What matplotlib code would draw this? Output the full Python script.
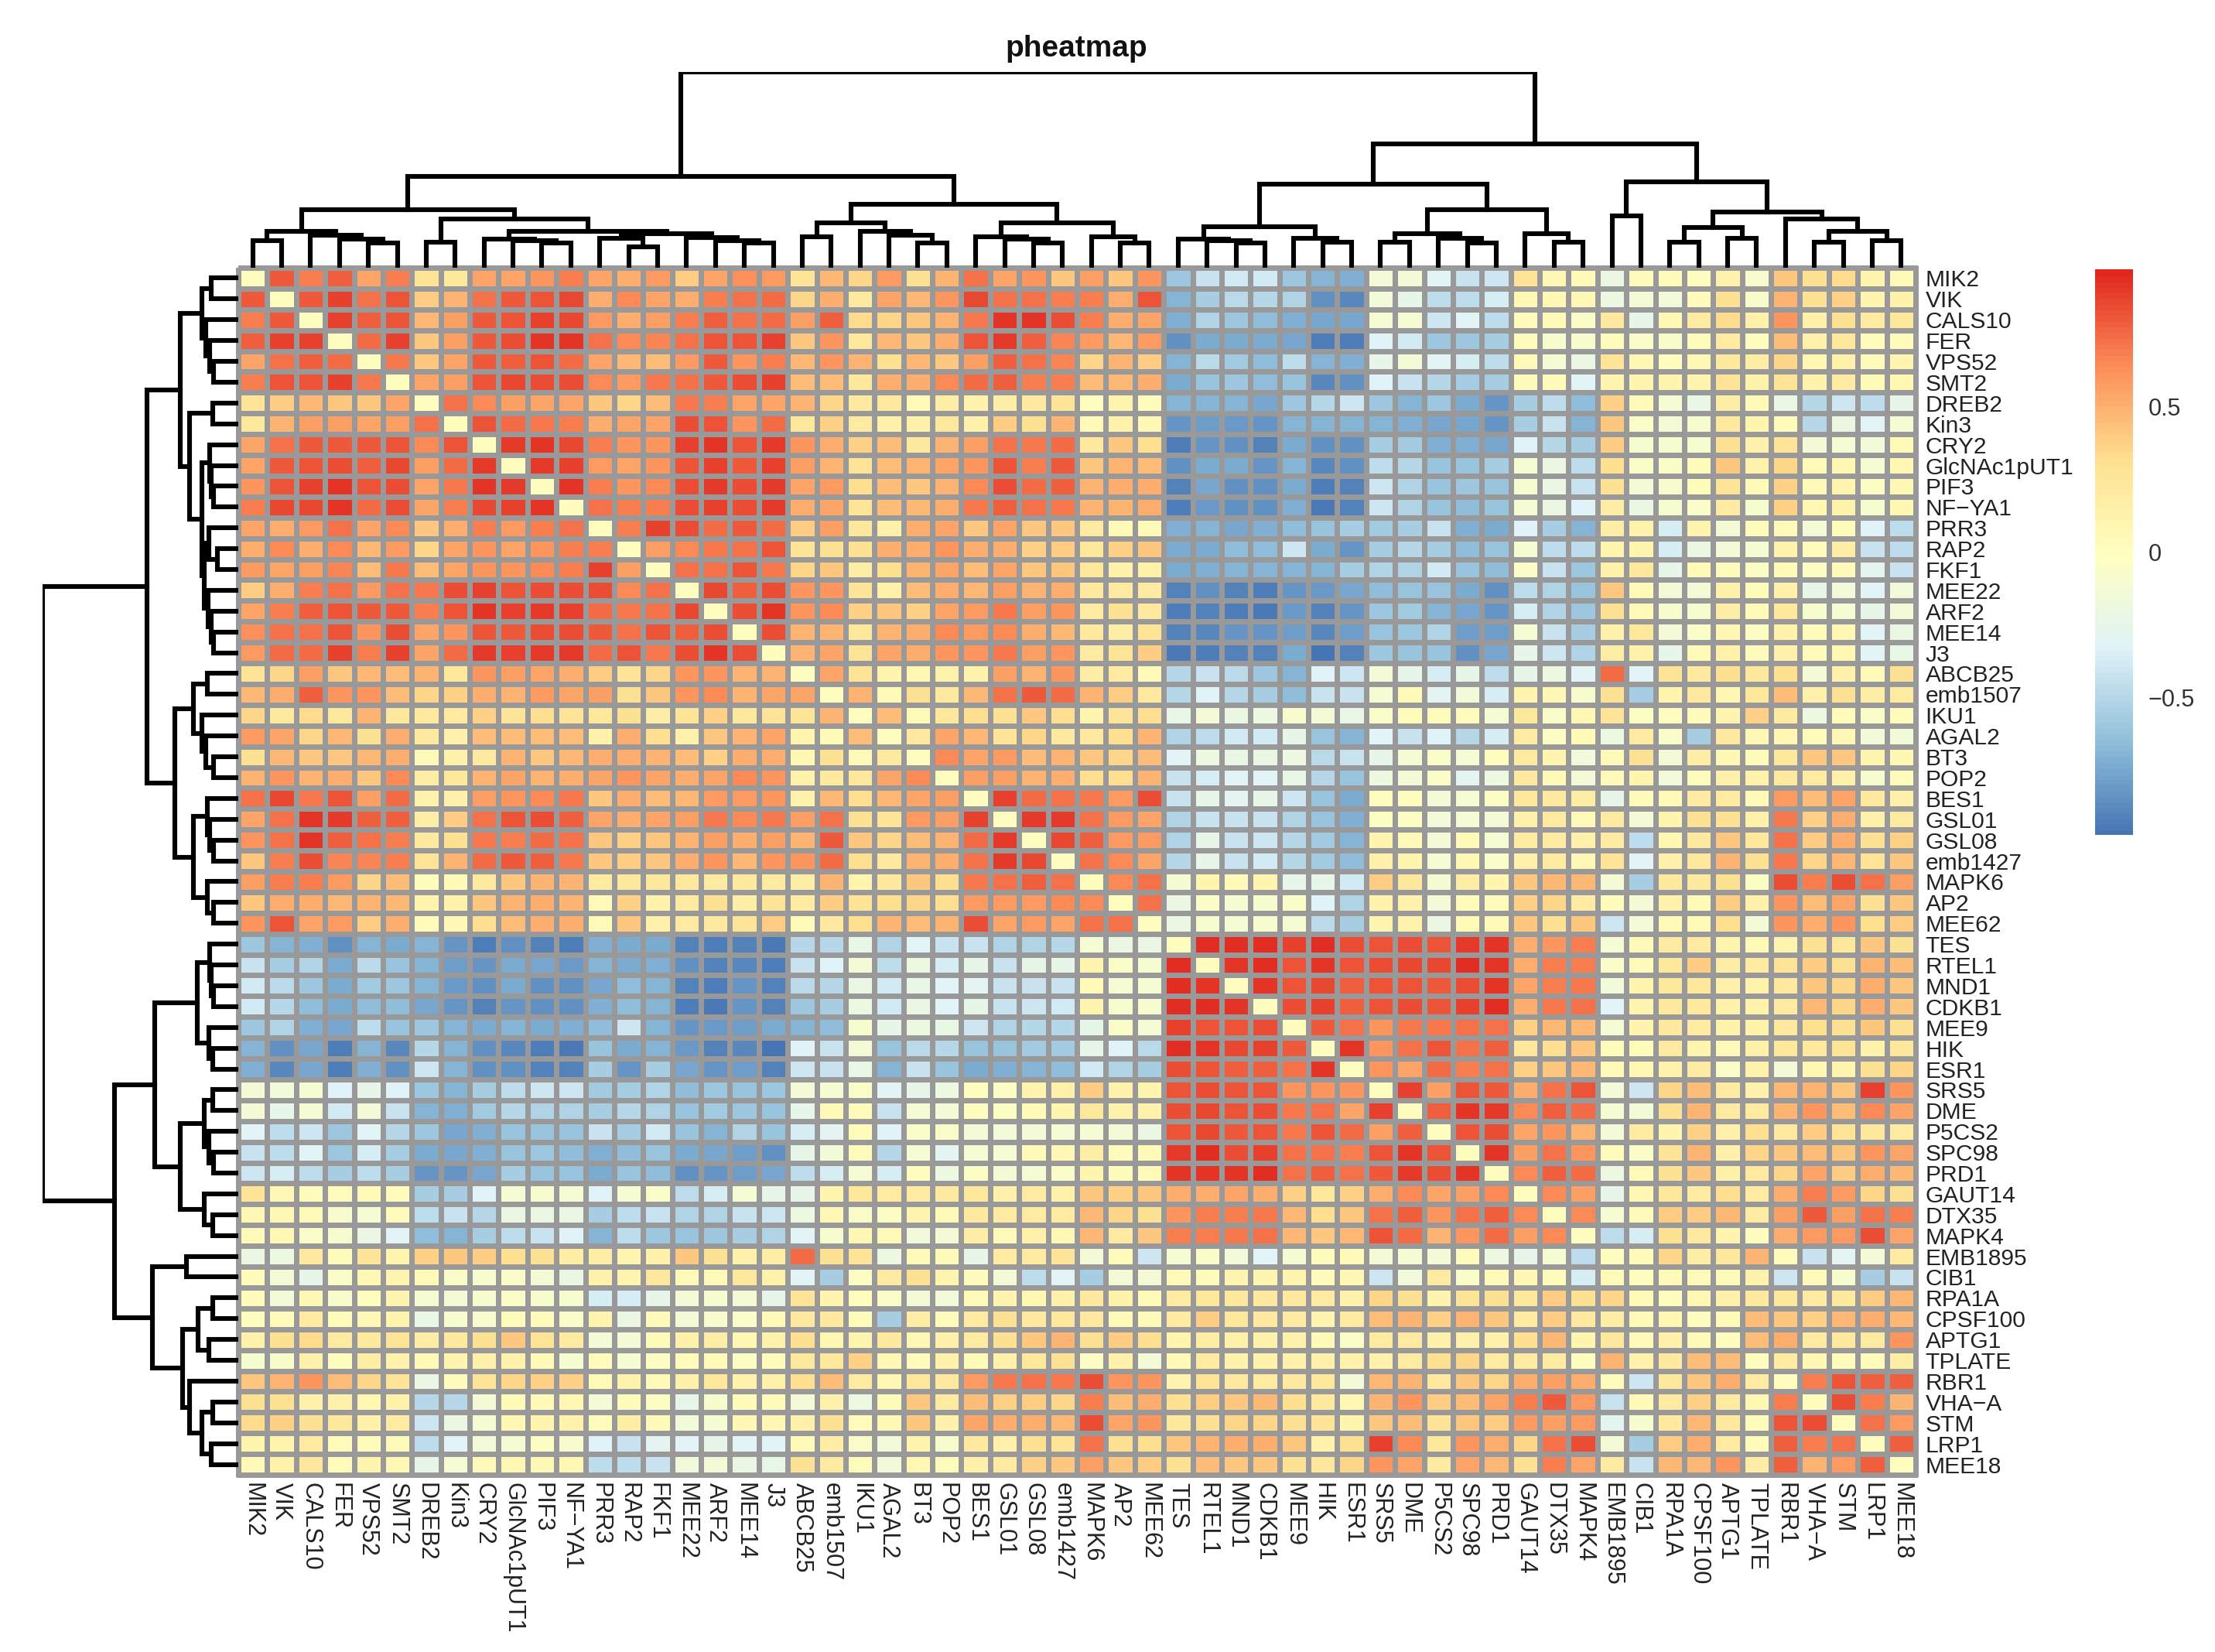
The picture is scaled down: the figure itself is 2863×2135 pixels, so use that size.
import numpy as np
import matplotlib
matplotlib.use('Agg')
import matplotlib.pyplot as plt
from matplotlib.colors import LinearSegmentedColormap

plt.rcParams['font.family'] = ['Liberation Sans', 'DejaVu Sans']

W, H = 2863, 2135

labels = ['MIK2', 'VIK', 'CALS10', 'FER', 'VPS52', 'SMT2', 'DREB2', 'Kin3', 'CRY2', 'GlcNAc1pUT1',
          'PIF3', 'NF\u2212YA1', 'PRR3', 'RAP2', 'FKF1', 'MEE22', 'ARF2', 'MEE14', 'J3', 'ABCB25',
          'emb1507', 'IKU1', 'AGAL2', 'BT3', 'POP2', 'BES1', 'GSL01', 'GSL08', 'emb1427', 'MAPK6',
          'AP2', 'MEE62', 'TES', 'RTEL1', 'MND1', 'CDKB1', 'MEE9', 'HIK', 'ESR1', 'SRS5',
          'DME', 'P5CS2', 'SPC98', 'PRD1', 'GAUT14', 'DTX35', 'MAPK4', 'EMB1895', 'CIB1', 'RPA1A',
          'CPSF100', 'APTG1', 'TPLATE', 'RBR1', 'VHA\u2212A', 'STM', 'LRP1', 'MEE18']

# upper triangle of the correlation matrix, in hundredths, row by row (diagonal is drawn as 0)
upper = [
 [80,68,78,55,68,28,25,55,55,62,68,55,52,60,40,55,63,60,28,48, 35,60,30,50,72,55,62,42,58,42,62,-60,-42,-38,-38,-60,-68,-70,-12,-12,-30, -42,-40,28,7,5,-20,3,3,0,12,-8,42,30,33,10,5],
 [80,88,72,82,40,50,72,80,83,87,52,65,55,52,68,72,75,35,52, 22,55,48,62,87,73,72,68,68,52,82,-68,-55,-48,-50,-52,-85,-88,-15,-25,-45, -45,-35,7,7,7,-18,-12,-15,2,30,-7,50,30,38,10,12],
 [88,78,82,48,58,80,82,88,87,60,52,58,68,78,72,75,58,78, 33,35,42,50,70,92,92,85,68,52,55,-70,-52,-60,-65,-70,-75,-75,-10,-10,-40, -30,-45,3,5,-5,22,-25,7,20,33,15,62,15,30,20,25],
 [75,88,42,58,80,85,92,93,72,65,67,72,82,83,88,42,62, 25,48,42,52,82,90,78,67,60,48,60,-85,-72,-72,-72,-75,-93,-92,-32,-38,-60, -60,-55,2,-8,-8,3,-5,-7,2,20,0,45,15,25,3,3],
 [70,42,55,80,78,83,75,55,48,45,60,80,62,68,48,62, 50,30,48,42,58,78,73,66,35,50,40,-68,-48,-58,-65,-45,-68,-70,-25,-12,-30, -35,-45,5,-10,-20,28,6,0,6,22,18,35,8,15,2,10],
 [55,58,82,87,85,85,65,60,70,72,80,85,88,45,45, 25,52,52,65,75,78,68,68,45,47,52,-72,-62,-60,-65,-62,-88,-85,-32,-42,-50, -55,-55,3,2,-30,10,10,10,10,28,12,28,12,20,5,8],
 [72,65,58,55,55,42,35,45,70,68,55,55,50,35, 22,22,5,18,12,18,22,28,0,10,3,-68,-68,-68,-75,-60,-50,-40,-60,-68,-60, -72,-82,-55,-45,-65,38,5,-10,-22,18,5,-20,-50,-40,-45,-25],
 [82,75,70,68,52,55,55,85,82,62,75,25,38, 20,15,15,25,15,40,30,50,5,12,6,-82,-78,-80,-82,-68,-68,-68,-68,-70,-75, -75,-82,-55,-42,-68,42,-5,-12,-8,22,10,2,-50,-20,-30,-10],
 [90,92,87,68,62,62,88,93,82,90,62,52, 38,45,22,50,58,72,70,75,22,42,32,-92,-82,-85,-90,-72,-85,-85,-55,-58,-70, -70,-75,-32,-50,-55,40,-8,-8,-8,30,15,28,-12,-10,-15,5],
 [90,88,60,55,62,82,88,80,88,58,50, 28,45,50,55,62,82,68,80,42,50,45,-85,-72,-72,-82,-68,-88,-85,-45,-50,-62, -62,-55,-10,-20,-45,32,-5,-5,2,42,12,35,5,8,-10,8],
 [93,68,62,65,85,90,85,90,55,60, 32,45,42,50,65,85,75,78,50,52,52,-90,-75,-85,-85,-72,-92,-90,-40,-52,-62, -60,-62,-8,-20,-42,30,-12,-8,2,28,5,38,5,10,-2,6],
 [72,68,68,85,88,85,90,52,55, 28,45,48,52,70,78,72,70,50,50,52,-92,-80,-85,-85,-70,-95,-90,-40,-52,-62, -65,-62,-10,-20,-32,18,-20,-8,-5,20,-8,38,8,12,-8,8],
 [68,88,85,75,80,75,40,58, 25,15,52,55,42,55,42,42,20,5,5,-70,-68,-75,-70,-65,-62,-55,-58,-55,-42, -70,-72,-32,-55,-68,18,12,-35,10,-12,2,5,-12,3,-32,-45],
 [58,65,70,72,82,28,30, 30,52,52,62,52,52,38,40,25,38,42,-72,-72,-65,-65,-40,-72,-82,-55,-50,-55, -65,-62,-10,-45,-45,10,10,-35,-20,-12,-10,12,2,18,-42,-45],
 [72,72,82,70,35,42, 18,32,50,55,45,55,42,42,25,12,15,-72,-70,-68,-68,-68,-68,-55,-52,-52,-38, -62,-65,-5,-42,-60,15,25,-25,5,2,-2,5,-2,5,-28,-42],
 [87,78,85,62,62, 28,15,45,52,48,58,50,52,22,20,20,-90,-85,-90,-92,-82,-80,-75,-65,-62,-62, -72,-85,-45,-52,-62,42,5,-12,-12,15,3,15,-25,-15,-30,-15],
 [85,92,62,65, 38,42,38,55,60,70,58,62,20,30,22,-92,-90,-93,-95,-80,-90,-82,-60,-58,-68, -75,-82,-35,-52,-60,30,5,-8,-8,18,5,25,-8,-10,-25,-12],
 [85,50,50, 25,50,52,65,60,65,52,48,22,18,28,-90,-88,-82,-82,-78,-88,-78,-62,-60,-52, -78,-78,-10,-42,-55,15,25,-12,-5,8,-2,12,2,8,-30,-20],
 [50,55, 28,55,52,62,62,70,58,62,20,28,40,-95,-92,-90,-90,-72,-97,-90,-60,-62,-62, -85,-75,-25,-40,-52,18,12,-25,5,12,2,15,2,8,-30,-22],
 [55, 28,10,8,12,12,58,50,62,18,20,5,-50,-42,-48,-60,-68,-32,-40,-12,-25,-35, -25,-45,-25,-18,-30,75,-30,28,22,32,25,32,-12,15,5,30],
 [50,5,30,22,48,72,80,75,50,40,22,-50,-32,-50,-55,-65,-42,-42,-10,5,-28, -15,-35,10,7,-8,30,-55,10,22,8,25,45,15,30,18,20],
 [45,5,25,32,30,42,32,10,28,32,-22,-12,-20,-18,-8,-12,-22,-5,3,2, 2,-10,25,-5,8,28,-2,0,3,10,38,20,-18,3,-5,3],
 [22,55,48,28,35,22,22,32,50,-52,-45,-38,-38,-25,-62,-68,-30,-42,-32, -50,-35,20,-2,5,-18,20,-5,-55,22,6,8,3,6,-15,-15],
 [65,55,60,45,50,42,35,45,-30,-18,-22,-20,-18,-48,-42,-25,-10,-5, -10,0,20,10,-15,5,30,-12,18,6,2,25,42,42,10,8],
 [58,58,50,52,32,32,50,-42,-35,-30,-30,-22,-50,-62,-18,-12,-5, -28,-18,22,5,-12,5,10,-15,2,15,12,22,20,15,-8,3],
 [88,75,72,70,60,85,-42,-25,-28,-25,-40,-62,-72,0,0,-12, -10,-2,25,22,18,-25,3,5,20,20,5,60,45,55,22,15],
 [90,90,72,60,55,-52,-42,-42,-42,-52,-62,-70,-2,-2,-15, -10,-12,15,20,5,20,-12,10,30,30,15,70,38,52,15,20],
 [87,78,60,60,-52,-25,-42,-40,-50,-58,-68,10,5,-12, 4,-10,20,20,15,20,-45,8,22,42,25,72,40,52,30,38],
 [72,65,55,-50,-25,-42,-38,-50,-58,-65,15,10,-10, 6,-5,15,20,6,28,-30,15,25,50,30,70,35,48,28,42],
 [65,72,-10,10,5,10,-25,-25,-38,40,25,-10, 18,10,42,48,48,-12,-55,22,22,30,-2,85,68,85,72,58],
 [72,-20,-5,-10,-8,-5,-32,-52,12,12,-12, 2,2,38,35,20,2,-12,12,5,40,15,62,45,55,30,42],
 [-20,-8,-10,-8,-10,-48,-55,10,12,-20, 5,5,42,30,42,-40,-12,5,5,32,-12,62,52,62,32,40],
 [95,95,95,88,95,85,82,85,83, 90,93,52,62,68,-10,5,20,20,10,5,10,30,25,42,30],
 [93,95,82,93,82,85,87,87, 95,93,52,68,68,-5,3,25,40,18,20,28,40,30,50,45],
 [93,82,87,78,82,82,80, 85,93,55,68,70,-15,10,25,25,15,12,22,42,35,52,42],
 [85,88,78,82,85,82, 88,95,52,70,72,-30,10,22,22,12,12,20,48,35,52,42],
 [80,72,62,70,70, 72,72,38,48,48,-10,10,22,20,12,12,22,32,30,42,30],
 [93,62,72,82, 72,78,25,32,42,2,2,20,10,5,15,25,22,28,12,25],
 [62,55,75, 68,72,38,42,48,5,8,12,20,-5,12,-12,8,10,30,35],
 [88,58, 83,80,52,72,82,-12,-40,35,45,20,12,48,50,42,88,62],
 [78, 93,90,65,78,75,-10,-15,30,50,20,20,50,62,45,65,55],
 [83,85,55,62,50,-12,20,10,38,15,32,22,40,28,25,20],
 [93,58,72,62,2,-5,28,50,15,35,42,45,42,62,55],
 [65,78,75,-18,5,30,42,15,20,35,55,40,52,48],
 [65,58,-25,8,25,20,32,20,52,68,60,35,30],
 [65,-10,2,40,40,48,20,58,80,58,72,68],
 [-45,-35,30,22,10,0,52,60,60,85,55],
 [5,35,18,25,50,2,-42,-28,-12,20],
 [5,5,5,12,-40,5,-8,-55,-42],
 [8,15,22,25,20,22,40,48],
 [5,45,42,38,48,52,48],
 [45,52,20,22,20,62],
 [20,8,2,2,18],
 [68,82,78,78],
 [85,68,50],
 [72,60],
 [78],
]

# clustering shared by both dendrograms: (merge height, left, right); ints are leaves
block_a = (.184, (.138, 0, 1), (.165, 2, (.145, 3, (.128, 4, 5))))
block_b = (.184, (.145, 8, (.138, 9, (.125, 10, 11))),
           (.175, (.15, 12, (.105, 13, 14)), (.155, 15, (.14, 16, (.125, 17, 18)))))
block_c = (.23, (.158, 19, 20), (.184, 21, (.165, 22, (.128, 23, 24))))
block_d = (.23, (.158, 25, (.145, 26, (.128, 27, 28))), (.158, 29, (.128, 30, 31)))
block_e = (.21, (.145, 32, (.138, 33, (.128, 34, 35))), (.152, 36, (.132, 37, 38)))
block_f = (.296, (.175, (.132, 39, 40), (.152, 41, (.128, 42, 43))), (.172, 44, (.132, 45, 46)))
block_g = (.283, (.204, (.132, 49, 50), (.152, 51, 52)),
           (.25, 53, (.184, (.132, 54, 55), (.138, 56, 57))))
tree = (1.0,
        (.465, (.297, block_a, (.25, (.132, 6, 7), block_b)),
         (.325, block_c, block_d)),
        (.632, (.428, block_e, block_f),
         (.44, (.263, 47, 48), block_g)))

n = len(labels)
mat = np.zeros((n, n))
for i, row in enumerate(upper):
    assert len(row) == n - 1 - i, i
    mat[i, i + 1:] = np.array(row) / 100
mat = mat + mat.T

cmap = LinearSegmentedColormap.from_list('rdylbu', ['#4575B4', '#91BFDB', '#E0F3F8', '#FFFFBF',
                                                    '#FEE090', '#FC8D59', '#E0281E'], N=100)


def px_axes(fig, x0, y0, x1, y1):
    return fig.add_axes([x0 / W, 1 - y1 / H, (x1 - x0) / W, (y1 - y0) / H])


def walk(node, segs):
    if isinstance(node, int):
        return node + 0.5, 0.0
    h, a, b = node
    xa, ha = walk(a, segs)
    xb, hb = walk(b, segs)
    segs.append(([xa, xa, xb, xb], [ha, h, h, hb]))
    return (xa + xb) / 2, h


fig = plt.figure(figsize=(W / 200, H / 200), dpi=200, facecolor='white')

ax = px_axes(fig, 308, 346, 2476, 1906)
mesh = ax.pcolormesh(mat, cmap=cmap, vmin=-0.97, vmax=0.97, edgecolors='#999999', linewidth=2.5,
                     clip_on=False)
ax.set_xlim(0, n)
ax.set_ylim(n, 0)
ax.yaxis.tick_right()
ax.set_xticks(np.arange(n) + 0.5)
ax.set_xticklabels(labels, rotation=270, fontsize=11, color='#222222', ha='center', va='top')
ax.set_yticks(np.arange(n) + 0.5)
ax.set_yticklabels(labels, fontsize=10.8, color='#222222', va='center_baseline')
ax.tick_params(length=0, pad=4.5)
ax.tick_params(axis='x', pad=3.5)
for s in ax.spines.values():
    s.set_visible(False)

segs = []
walk(tree, segs)

top = px_axes(fig, 308, 93, 2476, 346)
side = px_axes(fig, 55, 346, 308, 1906)
for xs, ys in segs:
    top.plot(xs, ys, color='black', lw=2.2, solid_capstyle='projecting', solid_joinstyle='miter')
    side.plot(ys, xs, color='black', lw=2.2, solid_capstyle='projecting', solid_joinstyle='miter')
top.set_xlim(0, n)
top.set_ylim(0, 1)
side.set_xlim(1, 0)
side.set_ylim(n, 0)
top.axis('off')
side.axis('off')

cax = px_axes(fig, 2708, 348, 2757, 1079)
cb = fig.colorbar(mesh, cax=cax)
cb.outline.set_visible(False)
cb.solids.set_edgecolor('face')
cb.set_ticks([-0.5, 0, 0.5])
cb.set_ticklabels(['\u22120.5', '0', '0.5'])
cb.ax.tick_params(length=0, pad=7, labelsize=11, labelcolor='#333333')

fig.text(1391 / W, 1 - 63 / H, 'pheatmap', fontsize=14, fontweight='bold', ha='center', va='center',
         color='#111111')

fig.savefig('out.png', dpi=200, facecolor='white')
